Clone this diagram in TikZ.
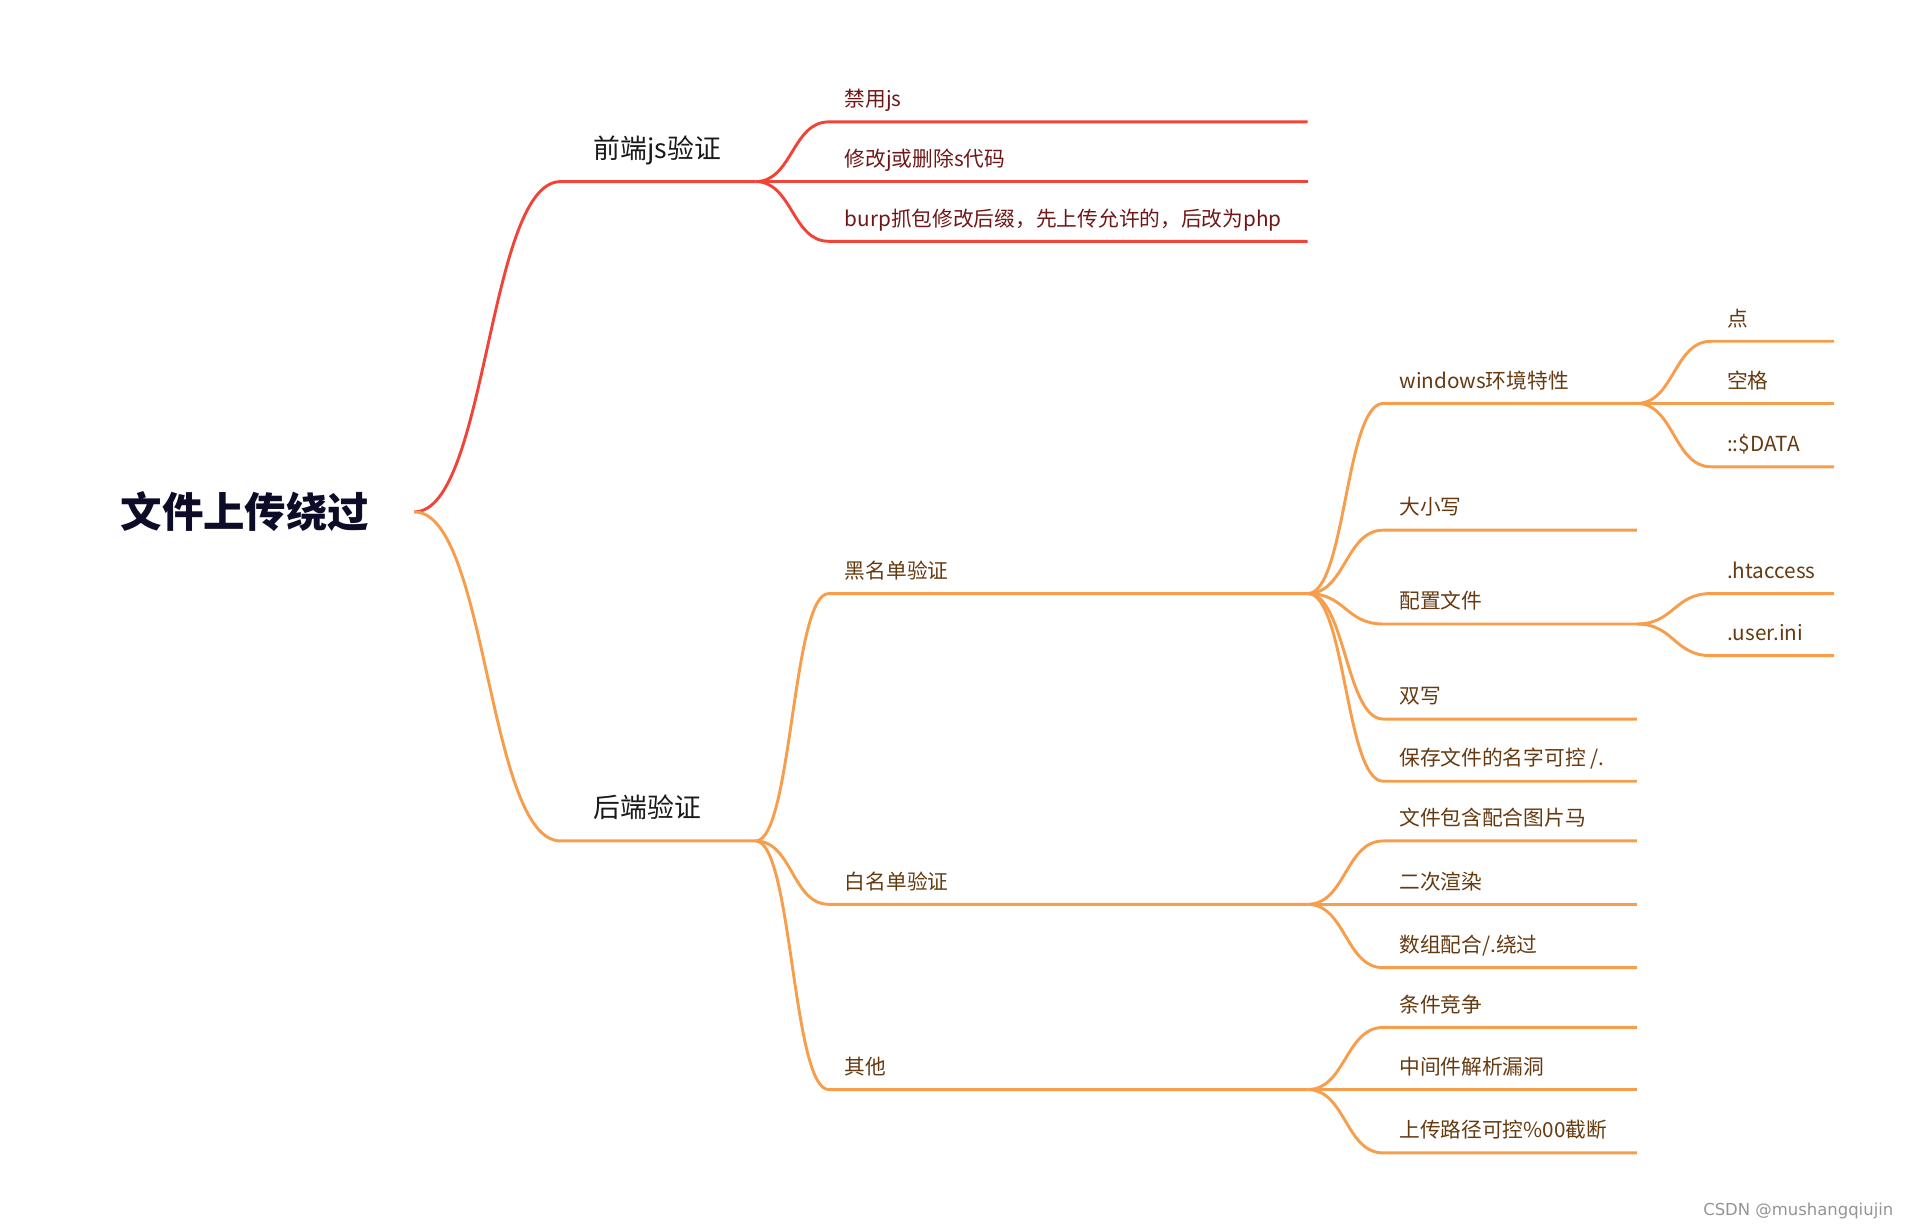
\documentclass[tikz,border=0pt]{standalone}
\usepackage{fontspec}
\setmainfont{Noto Sans CJK SC}
\newfontfamily\markfont{DejaVu Sans}
\definecolor{LineRed}{RGB}{240, 68, 56}
\definecolor{LineOrange}{RGB}{246, 158, 76}
\definecolor{TextRed}{RGB}{112, 22, 22}
\definecolor{TextBrown}{RGB}{102, 58, 16}
\definecolor{RootInk}{RGB}{12, 12, 40}
\usetikzlibrary{calc}

\begin{document}
\begin{tikzpicture}[
            x=1pt, y=-1pt,
            root/.style={font=\fontsize{34}{40}\selectfont\bfseries, text=RootInk},
            main/.style={anchor=south west, font=\fontsize{22}{26}\selectfont, text=black!90,
                         inner xsep=27pt, inner ysep=19pt, text depth=0pt},
            sub/.style={anchor=south west, font=\fontsize{17}{20}\selectfont, text=TextBrown,
                        inner xsep=13pt, inner ysep=12.3pt, text depth=0pt},
            redline/.style={LineRed, line width=2.4pt},
            orangeline/.style={LineOrange, line width=2.4pt},
            branch/.style={to path={.. controls ($(\tikztostart)!0.5!(\tikztotarget |- \tikztostart)$)
                                    and ($(\tikztotarget)!0.5!(\tikztostart |- \tikztotarget)$) .. (\tikztotarget)}}
        ]
            \useasboundingbox (0,0) rectangle (1568,1010);

            % Columns where the lines stop
            \coordinate (colA) at (1073,0);
            \coordinate (colB) at (1343,0);
            \coordinate (colC) at (1505,0);

            % Root
            \node[root] (root) at (201,420) {文件上传绕过};
            \coordinate (j-root) at (340,420);

            % Level 1
            \node[main] (front) at (460,149) {前端js验证};
            \node[main] (back) at (460,690) {后端验证};
            \coordinate (j-front) at (620,149);
            \coordinate (j-back) at (620,690);

            % Front end
            \node[sub, text=TextRed] (f1) at (680,100) {禁用js};
            \node[sub, text=TextRed] (f2) at (680,149) {修改j或删除s代码};
            \node[sub, text=TextRed] (f3) at (680,198) {burp抓包修改后缀，先上传允许的，后改为php};

            % Back end
            \node[sub] (black) at (680,487) {黑名单验证};
            \node[sub] (white) at (680,742) {白名单验证};
            \node[sub] (other) at (680,894) {其他};
            \coordinate (j-black) at (1073,487);
            \coordinate (j-white) at (1073,742);
            \coordinate (j-other) at (1073,894);

            % Blacklist
            \node[sub] (win) at (1135,331) {windows环境特性};
            \node[sub] (case) at (1135,435) {大小写};
            \node[sub] (conf) at (1135,512) {配置文件};
            \node[sub] (dbl) at (1135,590) {双写};
            \node[sub] (name) at (1135,641) {保存文件的名字可控 /.};
            \coordinate (j-win) at (1343,331);
            \coordinate (j-conf) at (1343,512);

            % Whitelist
            \node[sub] (incl) at (1135,690) {文件包含配合图片马};
            \node[sub] (rend) at (1135,742) {二次渲染};
            \node[sub] (arr) at (1135,794) {数组配合/.绕过};

            % Other
            \node[sub] (race) at (1135,843) {条件竞争};
            \node[sub] (parse) at (1135,894) {中间件解析漏洞};
            \node[sub] (path) at (1135,946) {上传路径可控\%00截断};

            % Level 4
            \node[sub] (dot) at (1404,280) {点};
            \node[sub] (space) at (1404,331) {空格};
            \node[sub] (data) at (1404,383) {::\$DATA};
            \node[sub] (hta) at (1404,487) {.htaccess};
            \node[sub] (ini) at (1404,538) {.user.ini};

            % Lines
            \draw[redline] (j-root) to[branch] (front.south west) -- (j-front);
            \draw[orangeline] (j-root) to[branch] (back.south west) -- (j-back);

            \foreach \n in {f1, f2, f3}
                \draw[redline] (j-front) to[branch] (\n.south west) -- (\n.south west -| colA);

            \draw[orangeline] (j-back) to[branch] (black.south west) -- (j-black);
            \draw[orangeline] (j-back) to[branch] (white.south west) -- (j-white);
            \draw[orangeline] (j-back) to[branch] (other.south west) -- (j-other);

            \draw[orangeline] (j-black) to[branch] (win.south west) -- (j-win);
            \draw[orangeline] (j-black) to[branch] (conf.south west) -- (j-conf);
            \foreach \n in {case, dbl, name}
                \draw[orangeline] (j-black) to[branch] (\n.south west) -- (\n.south west -| colB);
            \foreach \n in {incl, rend, arr}
                \draw[orangeline] (j-white) to[branch] (\n.south west) -- (\n.south west -| colB);
            \foreach \n in {race, parse, path}
                \draw[orangeline] (j-other) to[branch] (\n.south west) -- (\n.south west -| colB);

            \foreach \n in {dot, space, data}
                \draw[orangeline] (j-win) to[branch] (\n.south west) -- (\n.south west -| colC);
            \foreach \n in {hta, ini}
                \draw[orangeline] (j-conf) to[branch] (\n.south west) -- (\n.south west -| colC);

            % Watermark
            \node[font=\markfont\fontsize{13.5}{15}\selectfont, text=black!42, anchor=east] (mark) at (1557,994) {CSDN @mushangqiujin};
        \end{tikzpicture}
\end{document}
